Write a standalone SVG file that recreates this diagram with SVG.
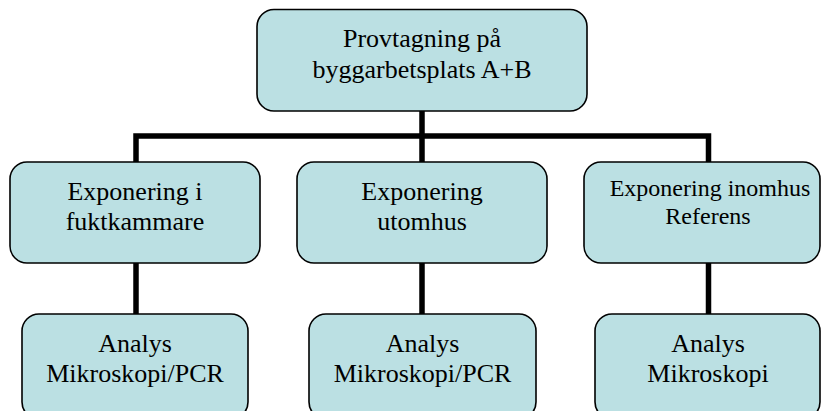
<svg xmlns="http://www.w3.org/2000/svg" width="821" height="411" viewBox="0 0 821 411">
<style>
.box{fill:#BBE0E3;stroke:#000;stroke-width:1.6}
.t{font-family:'Liberation Serif','Times New Roman',serif;font-size:26px;fill:#000;text-anchor:middle}
.s{font-size:24px}
.c{fill:none;stroke:#000;stroke-width:5.5;stroke-linejoin:miter;stroke-linecap:butt}
</style>
<rect width="821" height="411" fill="#fff"/>
<g id="connectors">
<path class="c" d="M136,162 V136 H708.5 V162"/>
<path class="c" d="M422,111 V162"/>
<path class="c" d="M136,263 V314"/>
<path class="c" d="M422,263 V314"/>
<path class="c" d="M708.5,263 V314"/>
</g>
<g id="n0">
<rect class="box" x="257" y="9.5" width="330" height="101.5" rx="17"/>
<text class="t" x="422" y="47">Provtagning på</text>
<text class="t" x="422" y="78">byggarbetsplats A+B</text>
</g>
<g id="n1">
<rect class="box" x="10" y="162" width="250" height="101" rx="17"/>
<text class="t" x="135" y="200">Exponering i</text>
<text class="t" x="135" y="230">fuktkammare</text>
</g>
<g id="n2">
<rect class="box" x="297" y="162" width="250" height="101" rx="17"/>
<text class="t" x="422" y="200">Exponering</text>
<text class="t" x="422" y="230">utomhus</text>
</g>
<g id="n3">
<rect class="box" x="584" y="162" width="236" height="101" rx="17"/>
<text class="t s" x="710" y="196">Exponering inomhus</text>
<text class="t s" x="708" y="224">Referens</text>
</g>
<g id="n4">
<rect class="box" x="22" y="314" width="226" height="105" rx="17"/>
<text class="t" x="135" y="352">Analys</text>
<text class="t" x="135" y="382">Mikroskopi/PCR</text>
</g>
<g id="n5">
<rect class="box" x="309" y="314" width="227" height="105" rx="17"/>
<text class="t" x="422.5" y="352">Analys</text>
<text class="t" x="422.5" y="382">Mikroskopi/PCR</text>
</g>
<g id="n6">
<rect class="box" x="595" y="314" width="225" height="105" rx="17"/>
<text class="t" x="708" y="352">Analys</text>
<text class="t" x="708" y="382">Mikroskopi</text>
</g>
</svg>
